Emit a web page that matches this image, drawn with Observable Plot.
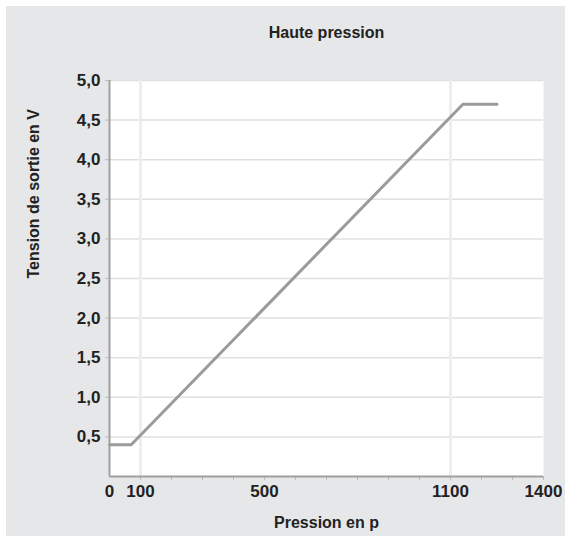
<!DOCTYPE html>
<html>
<head>
<meta charset="utf-8">
<script src="https://cdn.jsdelivr.net/npm/d3@7"></script>
<script src="https://cdn.jsdelivr.net/npm/@observablehq/plot@0.6"></script>
<style>
  html, body { margin: 0; padding: 0; background: #ffffff; }
  #panel { position: absolute; left: 6px; top: 6px; width: 559px; height: 530px; background: #e6e7e8; }
  svg { font-family: "Liberation Sans", Arial, sans-serif; }
</style>
</head>
<body>
<div id="panel"></div>
<script>
const title = "Haute pression";
const xLabel = "Pression en p";
const yLabel = "Tension de sortie en V";
const pressure = [0, 70, 1140, 1250];
const voltage = [0.4, 0.4, 4.7, 4.7];
const xTickLabels = [0, 100, 500, 1100, 1400];
const xMinorTicks = [100, 200, 300, 400, 500, 600, 700, 800, 900, 1000, 1100, 1200, 1300, 1400];
const yTickLabels = [0.5, 1.0, 1.5, 2.0, 2.5, 3.0, 3.5, 4.0, 4.5, 5.0];
const xGrid = [100, 1100];

const data = pressure.map((p, i) => ({p, v: voltage[i]}));
const fmt = d => d.toFixed(1).replace(".", ",");

const chart = Plot.plot({
  width: 559,
  height: 530,
  marginLeft: 103,
  marginRight: 22,
  marginTop: 74,
  marginBottom: 60,
  style: {background: "transparent", fontFamily: "Liberation Sans, Arial, sans-serif", fontSize: "17px", fontWeight: "bold", color: "#222"},
  x: {domain: [0, 1400], label: null},
  y: {domain: [0, 5], label: null},
  marks: [
    Plot.frame({fill: "white", stroke: null}),
    Plot.ruleY(yTickLabels, {stroke: "#e0e0e0", strokeWidth: 1.5}),
    Plot.ruleX(xGrid, {stroke: "#eeeeee", strokeWidth: 3}),
    Plot.axisX(xMinorTicks, {tickSize: 4, tickFormat: () => "", stroke: "#bbb"}),
    Plot.axisX(xTickLabels, {tickSize: 0, tickPadding: 8, tickFormat: d => String(d), fontSize: 17, fontWeight: "bold", fill: "#222"}),
    Plot.axisY(yTickLabels, {tickSize: 4, tickPadding: 5, tickFormat: fmt, stroke: "#bbb", fontSize: 17, fontWeight: "bold", fill: "#222"}),
    Plot.ruleX([0], {stroke: "#a0a0a0", strokeWidth: 2}),
    Plot.ruleY([0], {stroke: "#a0a0a0", strokeWidth: 2}),
    Plot.line(data, {x: "p", y: "v", stroke: "#9b9b9b", strokeWidth: 3}),
    Plot.text([title], {frameAnchor: "top", dy: -54, fontSize: 16, fontWeight: "bold", fill: "#222"}),
    Plot.text([xLabel], {frameAnchor: "bottom", dy: 51, fontSize: 16, fontWeight: "bold", fill: "#222"}),
    Plot.text([yLabel], {frameAnchor: "left", dx: -76, rotate: -90, fontSize: 16, fontWeight: "bold", fill: "#222"})
  ]
});
document.getElementById("panel").appendChild(chart);
</script>
</body>
</html>
